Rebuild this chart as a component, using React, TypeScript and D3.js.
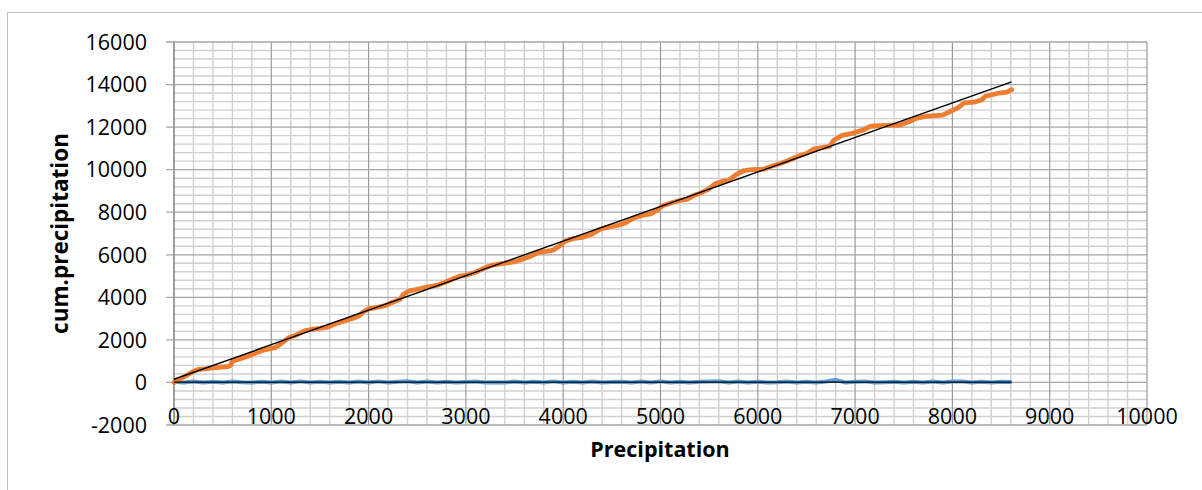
import React from "react";
import * as d3 from "d3";

// Cumulative precipitation (double-mass) series
const cumX = [0, 40, 120, 200, 240, 320, 400, 480, 560, 580, 600, 680, 760, 840, 920, 1000, 1040, 1100, 1180, 1260, 1340, 1420, 1500, 1580, 1660, 1760, 1840, 1900, 1940, 2000, 2100, 2180, 2240, 2320, 2360, 2420, 2500, 2600, 2700, 2780, 2860, 2940, 3020, 3100, 3200, 3280, 3380, 3480, 3560, 3660, 3740, 3820, 3900, 3960, 4020, 4100, 4200, 4300, 4380, 4460, 4560, 4640, 4720, 4820, 4900, 4960, 5020, 5100, 5200, 5280, 5340, 5420, 5500, 5560, 5640, 5700, 5780, 5860, 5940, 6060, 6140, 6240, 6340, 6420, 6500, 6580, 6660, 6740, 6780, 6860, 6980, 7080, 7160, 7300, 7460, 7560, 7620, 7720, 7900, 7980, 8060, 8120, 8220, 8300, 8340, 8460, 8560, 8609];
const cumY = [0, 120, 300, 520, 600, 640, 680, 720, 750, 800, 1000, 1120, 1230, 1380, 1520, 1600, 1640, 1820, 2100, 2230, 2420, 2500, 2540, 2600, 2760, 2900, 3020, 3120, 3300, 3460, 3540, 3620, 3760, 3900, 4150, 4300, 4380, 4480, 4560, 4700, 4850, 5000, 5060, 5180, 5400, 5520, 5600, 5650, 5760, 5920, 6100, 6160, 6220, 6400, 6640, 6760, 6820, 6980, 7200, 7300, 7380, 7500, 7720, 7860, 7920, 8080, 8300, 8420, 8560, 8620, 8780, 8920, 9100, 9340, 9450, 9500, 9780, 9960, 10000, 10020, 10160, 10300, 10480, 10640, 10760, 10980, 11040, 11100, 11380, 11600, 11720, 11860, 12040, 12080, 12100, 12260, 12400, 12500, 12560, 12740, 12920, 13140, 13170, 13280, 13450, 13580, 13640, 13760];

// Daily precipitation series
const dailyX = [0, 100, 200, 300, 400, 500, 600, 700, 800, 900, 1000, 1100, 1200, 1300, 1400, 1500, 1600, 1700, 1800, 1900, 2000, 2100, 2200, 2300, 2400, 2500, 2600, 2700, 2800, 2900, 3000, 3100, 3200, 3300, 3400, 3500, 3600, 3700, 3800, 3900, 4000, 4100, 4200, 4300, 4400, 4500, 4600, 4700, 4800, 4900, 5000, 5100, 5200, 5300, 5400, 5500, 5600, 5700, 5800, 5900, 6000, 6100, 6200, 6300, 6400, 6500, 6600, 6700, 6800, 6900, 7000, 7100, 7200, 7300, 7400, 7500, 7600, 7700, 7800, 7900, 8000, 8100, 8200, 8300, 8400, 8500, 8609];
const dailyY = [30, 0, 40, 0, 30, 0, 40, 10, 0, 30, 0, 40, 0, 50, 0, 30, 0, 30, 0, 40, 0, 50, 0, 30, 60, 0, 40, 0, 30, 0, 20, 40, 0, 10, 0, 40, 0, 30, 0, 50, 0, 30, 0, 40, 0, 20, 30, 0, 40, 0, 50, 0, 30, 0, 30, 40, 60, 0, 40, 0, 30, 0, 10, 40, 0, 30, 0, 40, 120, 0, 30, 50, 0, 10, 30, 0, 30, 0, 40, 0, 40, 50, 0, 30, 0, 30, 20];

// Linear trend lines
const trendX = [0, 8609];
const cumTrendY = [150, 14127];
const dailyTrendY = [15, 15];

const xTicks = [0, 1000, 2000, 3000, 4000, 5000, 6000, 7000, 8000, 9000, 10000];
const yTicks = [-2000, 0, 2000, 4000, 6000, 8000, 10000, 12000, 14000, 16000];

const W = 1202;
const H = 490;
const FONT = "'Open Sans', 'DejaVu Sans', sans-serif";

export default function App() {
  const x = d3.scaleLinear().domain([0, 10000]).range([174, 1147]);
  const y = d3.scaleLinear().domain([-2000, 16000]).range([425, 42]);

  const xMinor = d3.range(0, 10001, 200).filter((v) => v % 1000 !== 0);
  const yMinor = d3.range(-2000, 16001, 400).filter((v) => v % 2000 !== 0);

  const line = d3
    .line<[number, number]>()
    .x((d) => x(d[0]))
    .y((d) => y(d[1]));

  const cumPts = cumX.map((v, i) => [v, cumY[i]] as [number, number]);
  const dailyPts = dailyX.map((v, i) => [v, dailyY[i]] as [number, number]);
  const cumTrend = trendX.map((v, i) => [v, cumTrendY[i]] as [number, number]);
  const dailyTrend = trendX.map((v, i) => [v, dailyTrendY[i]] as [number, number]);

  const [x0, x1] = x.range();
  const [yb, yt] = y.range();

  return (
    <svg
      width={W}
      height={H}
      style={{ position: "absolute", left: 0, top: 0, background: "#fff" }}
    >
      <rect x={7.5} y={12.5} width={1220} height={500} fill="#fff" stroke="#bfbfbf" strokeWidth={1} />

      {/* minor grid */}
      {xMinor.map((v) => (
        <line key={"xm" + v} x1={x(v)} x2={x(v)} y1={yt} y2={yb} stroke="#d0d0d0" strokeWidth={1.4} />
      ))}
      {yMinor.map((v) => (
        <line key={"ym" + v} x1={x0} x2={x1} y1={y(v)} y2={y(v)} stroke="#d0d0d0" strokeWidth={1.4} />
      ))}

      {/* major grid */}
      {xTicks.map((v) => (
        <line key={"xM" + v} x1={x(v)} x2={x(v)} y1={yt} y2={yb} stroke="#9a9a9a" strokeWidth={1.2} />
      ))}
      {yTicks.map((v) => (
        <line key={"yM" + v} x1={x0 - 8} x2={x1} y1={y(v)} y2={y(v)} stroke="#a6a6a6" strokeWidth={1.3} />
      ))}

      {/* y axis line */}
      <line x1={x0} x2={x0} y1={yt} y2={yb} stroke="#8c8c8c" strokeWidth={1.3} />

      {/* series */}
      <path d={line(dailyPts) || ""} fill="none" stroke="#5b9bd5" strokeWidth={4} strokeLinejoin="round" />
      <path d={line(cumPts) || ""} fill="none" stroke="#ed7d31" strokeWidth={4.8} strokeLinejoin="round" strokeLinecap="round" />
      <path d={line(dailyTrend) || ""} fill="none" stroke="#000" strokeWidth={1.2} />
      <path d={line(cumTrend) || ""} fill="none" stroke="#000" strokeWidth={1.4} />

      {/* tick labels */}
      {yTicks.map((v) => (
        <text key={"yl" + v} x={147} y={y(v)} dy="0.36em" textAnchor="end" fontFamily={FONT} fontSize={21.5} fill="#000">
          {v}
        </text>
      ))}
      {xTicks.map((v) => (
        <text key={"xl" + v} x={x(v)} y={424} textAnchor="middle" fontFamily={FONT} fontSize={21.5} fill="#000">
          {v}
        </text>
      ))}

      {/* axis titles */}
      <text x={660} y={457} textAnchor="middle" fontFamily={FONT} fontSize={21.5} fontWeight="bold" fill="#000">
        Precipitation
      </text>
      <text
        transform={`translate(68, ${(yt + yb) / 2}) rotate(-90)`}
        textAnchor="middle"
        fontFamily={FONT}
        fontSize={22.5}
        fontWeight="bold"
        fill="#000"
      >
        cum.precipitation
      </text>
    </svg>
  );
}
